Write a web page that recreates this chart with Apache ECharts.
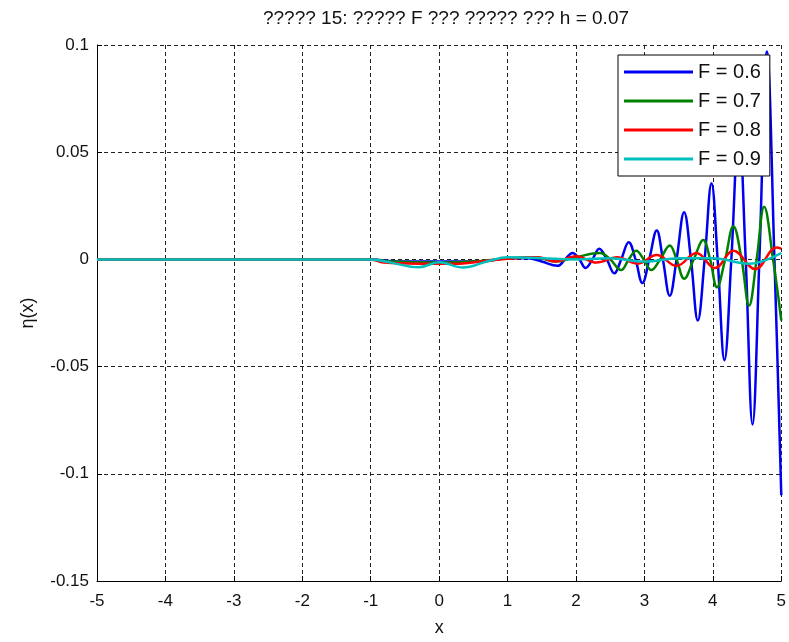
<!DOCTYPE html>
<html>
<head>
<meta charset="utf-8">
<script src="https://cdn.jsdelivr.net/npm/echarts@6/dist/echarts.min.js"></script>
<style>
  html, body { margin: 0; padding: 0; background: #fff; }
  #chart { width: 789px; height: 642px; }
</style>
</head>
<body>
<div id="chart"></div>
<script>
// 数据（从图中读取的近似值，包含极值点和过零点）
var seriesNames = ['F = 0.6', 'F = 0.7', 'F = 0.8', 'F = 0.9'];

var f06 = [[-5, 0], [-1, 0], [-0.6, -0.001], [0, -0.001], [0.6, -0.001], [1.0, 0.0005],
  [1.3, 0.0005], [1.5, -0.001], [1.73, -0.003], [1.84, 0], [1.95, 0.003], [2.05, 0],
  [2.14, -0.004], [2.24, 0], [2.34, 0.005], [2.45, 0], [2.56, -0.0065], [2.66, 0],
  [2.77, 0.008], [2.87, 0], [2.97, -0.011], [3.07, 0], [3.18, 0.0135], [3.27, 0],
  [3.37, -0.017], [3.47, 0], [3.58, 0.022], [3.68, 0], [3.78, -0.0285], [3.88, 0],
  [3.98, 0.0355], [4.07, 0], [4.17, -0.047], [4.27, 0], [4.38, 0.062], [4.48, 0],
  [4.58, -0.077], [4.68, 0], [4.79, 0.097], [4.90, 0], [5.0, -0.11]];

var f07 = [[-5, 0], [-1, 0], [-0.7, -0.001], [0, -0.0015], [0.5, -0.001], [1.0, 0.0005],
  [1.4, 0.001], [1.7, -0.001], [2.0, 0.001], [2.35, 0.003], [2.5, 0], [2.66, -0.005],
  [2.77, 0], [2.88, 0.004], [2.99, 0], [3.1, -0.005], [3.23, 0], [3.37, 0.0065], [3.47, 0],
  [3.58, -0.009], [3.72, 0], [3.86, 0.009], [3.96, 0], [4.06, -0.013], [4.18, 0],
  [4.30, 0.0155], [4.42, 0], [4.53, -0.0215], [4.64, 0], [4.75, 0.0245], [4.88, 0],
  [5.0, -0.0285]];

var f08 = [[-5, 0], [-1, 0], [-0.8, -0.0015], [-0.3, -0.002], [0.3, -0.002], [0.6, -0.001],
  [1.0, 0.0003], [1.44, 0.001], [1.7, -0.001], [2.0, 0.0015], [2.3, -0.0015], [2.6, 0.001],
  [2.9, -0.002], [3.18, 0.002], [3.47, -0.003], [3.76, 0.003], [4.03, -0.004], [4.30, 0.004],
  [4.62, -0.0045], [4.93, 0.0055], [5.0, 0.005]];

var f09 = [[-5, 0], [-1, 0], [-0.7, -0.0015], [-0.3, -0.0037], [0, -0.0013], [0.35, -0.0038],
  [0.7, -0.001], [1.0, 0.001], [1.5, 0.0005], [2.0, 0], [2.5, 0.0005], [3.0, -0.001],
  [3.5, 0.0005], [4.0, 0.0005], [4.53, -0.002], [5.0, 0.003]];

var seriesData = [f06, f07, f08, f09];
var seriesColors = ['#0000f0', '#008000', '#ff0000', '#00bfbf'];

var chart = echarts.init(document.getElementById('chart'));
var font = 'Liberation Sans, Arial, sans-serif';

var option = {
  backgroundColor: '#fff',
  animation: false,
  title: {
    text: '????? 15: ????? F ??? ????? ??? h = 0.07',
    left: 441,
    textAlign: 'center',
    top: 4,
    textStyle: { fontFamily: font, fontSize: 19, fontWeight: 'normal', color: '#111' }
  },
  legend: {
    data: seriesNames,
    orient: 'vertical',
    left: 618,
    top: 55,
    icon: 'rect',
    itemWidth: 69,
    itemHeight: 3,
    itemGap: 9,
    padding: [7, 9, 7, 6],
    backgroundColor: '#fff',
    borderColor: '#000',
    borderWidth: 1,
    borderRadius: 0,
    textStyle: { fontFamily: font, fontSize: 20, color: '#111', lineHeight: 20 }
  },
  grid: { left: 97, top: 45, width: 688, height: 537 },
  xAxis: {
    type: 'value',
    min: -5,
    max: 5,
    interval: 1,
    name: 'x',
    nameLocation: 'middle',
    nameGap: 38,
    nameTextStyle: { fontFamily: font, fontSize: 18, color: '#111' },
    axisLine: { onZero: false, lineStyle: { color: '#000', width: 1 } },
    axisTick: { inside: true, length: 5, lineStyle: { color: '#000' } },
    axisLabel: { fontFamily: font, fontSize: 17, color: '#111', margin: 12 },
    splitLine: { show: true, lineStyle: { color: '#222', type: [4, 3], width: 1 } }
  },
  yAxis: {
    type: 'value',
    min: -0.15,
    max: 0.1,
    interval: 0.05,
    name: 'η(x)',
    nameLocation: 'middle',
    nameGap: 60,
    nameTextStyle: { fontFamily: font, fontSize: 18, color: '#111' },
    axisLine: { show: true, onZero: false, lineStyle: { color: '#000', width: 1 } },
    axisTick: { show: true, inside: true, length: 5, lineStyle: { color: '#000' } },
    axisLabel: {
      fontFamily: font, fontSize: 17, color: '#111', margin: 8,
      formatter: function (v) { return String(Math.round(v * 100) / 100); }
    },
    splitLine: { show: true, lineStyle: { color: '#222', type: [4, 3], width: 1 } }
  },
  series: seriesNames.map(function (name, i) {
    return {
      name: name,
      type: 'line',
      data: seriesData[i],
      smooth: 0.4,
      showSymbol: false,
      symbol: 'none',
      color: seriesColors[i],
      lineStyle: { width: 2.5, color: seriesColors[i] }
    };
  })
};

chart.setOption(option);
</script>
</body>
</html>
